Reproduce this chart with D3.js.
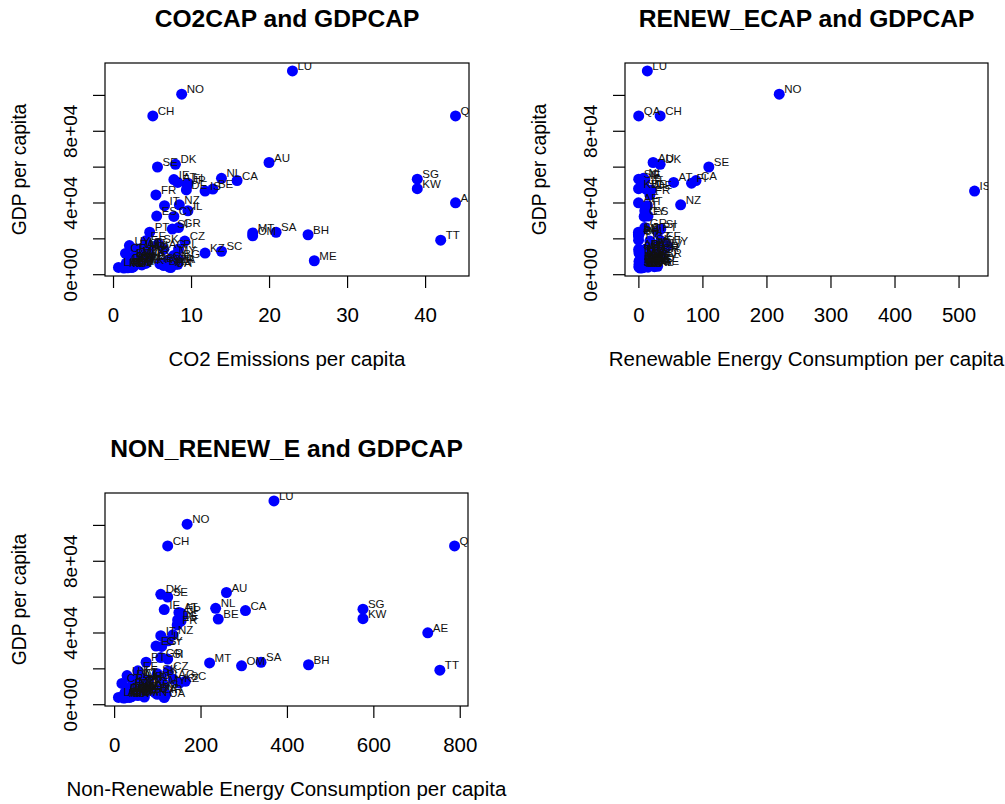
<!DOCTYPE html>
<html>
<head>
<meta charset="utf-8">
<script src="https://cdn.jsdelivr.net/npm/d3@7"></script>
<style>
  body { margin: 0; background: #fff; }
  text { font-family: "Liberation Sans", Arial, Helvetica, sans-serif; }
</style>
</head>
<body>
<div id="chart"></div>
<script>
// country codes and values
var codes = ["LU","NO","CH","QA","SE","DK","AU","NL","CA","IE","AT","FI","JP","DE","IS","BE","SG","KW","FR","AE",
  "IT","NZ","IL","ES","CY","GR","SI","PT","MT","OM","SA","BH","TT","ME","KZ","SC","AG","PL","EE","UA",
  "BG","CZ","SK","HU","LT","LV","HR","RO","RS","BA","MK","AL","MD","BY","GE","AM","AZ","MN","CN","TH",
  "MY","LK","ID","BR","AR","CL","UY","MX","CO","PE","EC","CR","PA","DO","JM","ZA","BW","MU","TN","LB",
  "IR","TR","JO"];

var co2Cap = [23.0,8.8,5.1,43.9,5.7,8.0,20.0,13.9,15.9,7.8,8.3,9.6,9.5,9.4,11.8,12.8,39.0,39.0,5.5,43.9,
  6.6,8.5,9.6,5.6,7.8,8.4,7.6,4.7,17.9,17.9,20.9,25.0,42.0,25.8,11.8,13.9,6.5,8.4,4.2,7.4,
  8.4,9.2,5.8,4.3,4.0,3.5,4.0,3.6,6.0,6.5,3.7,1.5,1.4,6.2,2.5,1.8,3.6,7.2,7.0,4.2,
  7.8,0.7,1.9,2.3,4.5,4.6,2.1,3.8,1.7,1.9,2.6,1.6,2.8,2.3,2.7,8.0,3.0,3.1,2.4,4.3,
  8.3,4.7,2.6];

var renewCap = [14,220,34,0.5,110,34,23,8,90,10,55,83,8,20,525,12,0.5,0.3,18,0.2,
  14,66,10,15,9,10,35,30,2,0.2,0.1,0.1,0.3,18,1,1,0.5,12,35,4,
  15,18,20,15,22,40,30,25,20,20,12,25,3,6,30,15,2,1,10,6,
  5,8,6,35,8,30,45,5,22,20,15,30,12,3,4,3,1,6,2,2,
  1,12,1];

var nonRenewCap = [370,169,124,788,124,108,260,235,304,116,150,155,158,147,155,241,576,576,146,726,
  108,136,125,97,110,108,124,74,221,295,340,450,754,60,151,165,137,110,55,116,
  100,125,100,80,60,55,65,50,60,55,45,20,22,95,30,28,50,70,80,65,
  115,10,25,35,75,60,30,60,25,25,35,18,40,30,40,100,45,45,35,60,
  120,65,40];

var gdpCap = [113400,100400,88300,88300,59800,61300,62300,53500,52200,52800,51200,50800,49500,47000,46400,47500,53000,47700,44200,39800,
  38200,38700,35400,32400,32200,26000,25200,23400,23000,21400,23400,22000,19000,7500,11800,12800,13900,14000,18600,3700,
  8500,18500,17000,13500,15000,14200,13000,9000,5800,4800,5200,4200,3400,6300,4400,3900,5500,4000,7600,6000,
  10500,3800,3600,9000,12500,14800,16000,9500,6200,6100,6000,11600,14000,7000,5000,5500,7200,10000,3700,7500,
  5500,10000,4100];

// axis ticks
var gdpTicks = [0, 20000, 40000, 60000, 80000, 100000];
var gdpTickLabels = ["0e+00", "", "4e+04", "", "8e+04", ""];
var co2Ticks = [0, 10, 20, 30, 40];
var renewTicks = [0, 100, 200, 300, 400, 500];
var nonRenewTicks = [0, 200, 400, 600, 800];

var W = 1005, H = 804;

var svg = d3.select("#chart").append("svg")
  .attr("width", W)
  .attr("height", H);

svg.append("rect").attr("width", W).attr("height", H).attr("fill", "#fff");

// R style range: data range extended by 4% each side
function rDomain(vals) {
  var e = d3.extent(vals);
  var pad = (e[1] - e[0]) * 0.04;
  return [e[0] - pad, e[1] + pad];
}

var panels = [
  {id: "p1", xs: co2Cap, ticks: co2Ticks, title: "CO2CAP and GDPCAP",
   xlab: "CO2 Emissions per capita", l: 105, r: 469, t: 63, b: 276},
  {id: "p2", xs: renewCap, ticks: renewTicks, title: "RENEW_ECAP and GDPCAP",
   xlab: "Renewable Energy Consumption per capita", l: 625, r: 988, t: 63, b: 276},
  {id: "p3", xs: nonRenewCap, ticks: nonRenewTicks, title: "NON_RENEW_E and GDPCAP",
   xlab: "Non-Renewable Energy Consumption per capita", l: 105, r: 468, t: 493, b: 706}
];

panels.forEach(function (p) {
  var x = d3.scaleLinear().domain(rDomain(p.xs)).range([p.l, p.r]);
  var y = d3.scaleLinear().domain(rDomain(gdpCap)).range([p.b, p.t]);

  var g = svg.append("g");

  g.append("clipPath").attr("id", "clip-" + p.id)
    .append("rect")
    .attr("x", p.l).attr("y", p.t)
    .attr("width", p.r - p.l).attr("height", p.b - p.t);

  // points
  var plot = g.append("g").attr("clip-path", "url(#clip-" + p.id + ")");
  plot.selectAll("circle")
    .data(codes)
    .enter()
    .append("circle")
    .attr("cx", function (d, i) { return x(p.xs[i]); })
    .attr("cy", function (d, i) { return y(gdpCap[i]); })
    .attr("r", 5.5)
    .attr("fill", "#0000ff");

  // labels on top of the points
  plot.selectAll("text")
    .data(codes)
    .enter()
    .append("text")
    .attr("x", function (d, i) { return x(p.xs[i]) + 5; })
    .attr("y", function (d, i) { return y(gdpCap[i]) - 1; })
    .attr("font-size", 11.5)
    .attr("fill", "#111")
    .text(function (d) { return d; });

  // box
  g.append("rect")
    .attr("x", p.l).attr("y", p.t)
    .attr("width", p.r - p.l).attr("height", p.b - p.t)
    .attr("fill", "none").attr("stroke", "#000").attr("stroke-width", 1.2);

  // x axis
  var xa = g.append("g")
    .attr("transform", "translate(0," + p.b + ")")
    .call(d3.axisBottom(x).tickValues(p.ticks).tickSize(12).tickSizeOuter(0));
  xa.select(".domain").remove();
  xa.selectAll("line").attr("stroke", "#000").attr("stroke-width", 1.2);
  xa.selectAll("text")
    .attr("y", 46).attr("dy", null)
    .attr("font-size", 20.5).attr("fill", "#000")
    .attr("font-family", "Liberation Sans, Arial, sans-serif");

  // y axis
  var ya = g.append("g")
    .attr("transform", "translate(" + p.l + ",0)")
    .call(d3.axisLeft(y).tickValues(gdpTicks).tickSize(12).tickSizeOuter(0)
      .tickFormat(function (d, i) { return gdpTickLabels[i]; }));
  ya.select(".domain").remove();
  ya.selectAll("line").attr("stroke", "#000").attr("stroke-width", 1.2);
  ya.selectAll("text")
    .attr("x", 0).attr("dy", null).attr("y", 0)
    .attr("transform", "translate(-28,0) rotate(-90)")
    .attr("text-anchor", "middle")
    .attr("font-size", 19).attr("fill", "#000")
    .attr("font-family", "Liberation Sans, Arial, sans-serif");

  // titles
  g.append("text")
    .attr("x", (p.l + p.r) / 2).attr("y", p.t - 36)
    .attr("text-anchor", "middle")
    .attr("font-size", 24.6).attr("font-weight", "bold")
    .text(p.title);

  g.append("text")
    .attr("x", (p.l + p.r) / 2).attr("y", p.b + 90)
    .attr("text-anchor", "middle")
    .attr("font-size", 20.5)
    .text(p.xlab);

  g.append("text")
    .attr("transform", "translate(" + (p.l - 79) + "," + ((p.t + p.b) / 2) + ") rotate(-90)")
    .attr("text-anchor", "middle")
    .attr("font-size", 19.3)
    .text("GDP per capita");
});
</script>
</body>
</html>
